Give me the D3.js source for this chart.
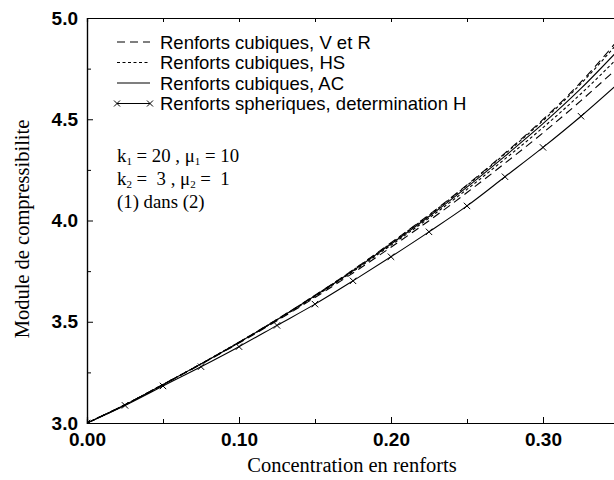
<!DOCTYPE html>
<html><head><meta charset="utf-8">
<script src="https://cdn.jsdelivr.net/npm/d3@7"></script>
<style>body{margin:0;background:#fff}svg{display:block}</style>
</head><body>
<script>
// ---- data ----
const concentration = [0, 0.025, 0.05, 0.075, 0.1, 0.125, 0.15, 0.175, 0.2, 0.225, 0.25, 0.275, 0.3, 0.325, 0.35];
const cubicV   = [3.000, 3.090, 3.190, 3.292, 3.399, 3.512, 3.631, 3.756, 3.890, 4.028, 4.176, 4.333, 4.499, 4.684, 4.897];
const cubicHSu = [3.000, 3.090, 3.190, 3.292, 3.399, 3.511, 3.630, 3.755, 3.888, 4.026, 4.173, 4.329, 4.493, 4.676, 4.883];
const cubicAC  = [3.000, 3.090, 3.190, 3.292, 3.398, 3.510, 3.628, 3.752, 3.884, 4.020, 4.165, 4.318, 4.478, 4.652, 4.845];
const cubicHSl = [3.000, 3.090, 3.190, 3.292, 3.397, 3.508, 3.625, 3.748, 3.878, 4.012, 4.154, 4.304, 4.459, 4.626, 4.809];
const cubicR   = [3.000, 3.090, 3.189, 3.290, 3.395, 3.505, 3.620, 3.741, 3.868, 3.999, 4.138, 4.283, 4.433, 4.592, 4.760];
const spherH   = [3.000, 3.087, 3.183, 3.278, 3.377, 3.482, 3.587, 3.702, 3.821, 3.944, 4.072, 4.216, 4.361, 4.515, 4.680];
const xTicks = [0, 0.1, 0.2, 0.3];
const xMinor = [0.05, 0.15, 0.25, 0.35, 0.4];
const yTicks = [3.0, 3.5, 4.0, 4.5, 5.0];
const yMinor = [3.25, 3.75, 4.25, 4.75];
const legendLabels = ["Renforts cubiques, V et R", "Renforts cubiques, HS", "Renforts cubiques, AC", "Renforts spheriques, determination H"];

const W = 614, H = 480;
const svg = d3.select("body").append("svg").attr("width", W).attr("height", H);
const x = d3.scaleLinear().domain([0, 0.4]).range([87, 695]);
const y = d3.scaleLinear().domain([3.0, 5.0]).range([423, 18]);

svg.append("clipPath").attr("id", "plotclip").append("rect")
  .attr("x", 87).attr("y", 18).attr("width", 608).attr("height", 405);

const sans = "'Liberation Sans', Arial, Helvetica, sans-serif";
const serif = "'Liberation Serif', 'Times New Roman', serif";

// axes
function styleAxis(g){ g.select(".domain").attr("stroke","#000").attr("stroke-width",1.2); g.selectAll(".tick line").attr("stroke","#000").attr("stroke-width",1); }
svg.append("g").attr("transform","translate(0,423)")
  .call(d3.axisBottom(x).tickValues(xTicks).tickSize(-6).tickPadding(10).tickFormat(d3.format(".2f")))
  .call(styleAxis)
  .call(g=>g.selectAll("text").attr("font-family",sans).attr("font-weight","bold").attr("font-size",19).attr("fill","#000"));
svg.append("g").attr("transform","translate(0,423)")
  .call(d3.axisBottom(x).tickValues(xMinor).tickSize(-4).tickFormat(""))
  .call(styleAxis);
svg.append("g").attr("transform","translate(0,18)")
  .call(d3.axisTop(x).tickValues(xTicks.concat(xMinor)).tickSize(-4).tickFormat(""))
  .call(styleAxis);
svg.append("g").attr("transform","translate(87,0)")
  .call(d3.axisLeft(y).tickValues(yTicks).tickSize(-6).tickPadding(9).tickFormat(d3.format(".1f")))
  .call(styleAxis)
  .call(g=>g.selectAll("text").attr("font-family",sans).attr("font-weight","bold").attr("font-size",19).attr("fill","#000"));
svg.append("g").attr("transform","translate(87,0)")
  .call(d3.axisLeft(y).tickValues(yMinor).tickSize(-4).tickFormat(""))
  .call(styleAxis);

// axis titles
svg.append("text").attr("x", 352).attr("y", 472).attr("text-anchor","middle")
  .attr("font-family", serif).attr("font-size", 20.5).text("Concentration en renforts");
svg.append("text").attr("transform","translate(29,229) rotate(-90)").attr("text-anchor","middle")
  .attr("font-family", serif).attr("font-size", 20.5).text("Module de compressibilite");

// curves
const plot = svg.append("g").attr("clip-path","url(#plotclip)");
const line = d3.line().x(d=>x(d[0])).y(d=>y(d[1])).curve(d3.curveMonotoneX);
const series = [
  {v: cubicV,   dash: "8,5"},
  {v: cubicHSu, dash: "3,2.5"},
  {v: cubicAC,  dash: null},
  {v: cubicHSl, dash: "3,2.5"},
  {v: cubicR,   dash: "8,5"},
  {v: spherH,   dash: null}
];
series.forEach(s=>{
  plot.append("path").datum(concentration.map((c,i)=>[c, s.v[i]]))
    .attr("d", line).attr("fill","none").attr("stroke","#000").attr("stroke-width",1.1)
    .attr("stroke-dasharray", s.dash);
});
function cross(g, cx, cy, r){
  g.append("path").attr("d", `M${cx-r},${cy-r}L${cx+r},${cy+r}M${cx-r},${cy+r}L${cx+r},${cy-r}`)
   .attr("stroke","#000").attr("stroke-width",1).attr("fill","none");
}
concentration.forEach((c,i)=> cross(plot, x(c), y(spherH[i]), 3.2));

// legend
const legY = [42, 62.5, 83, 103.5];
const legDash = ["8,5", "3,2.5", null, null];
legendLabels.forEach((t,i)=>{
  svg.append("line").attr("x1",117).attr("x2",150).attr("y1",legY[i]).attr("y2",legY[i])
    .attr("stroke","#000").attr("stroke-width",1.1).attr("stroke-dasharray", legDash[i]);
  if (i===3){ cross(svg,117,legY[i],3); cross(svg,150,legY[i],3); }
  svg.append("text").attr("x",160).attr("y",legY[i]+6.5).attr("font-family",sans).attr("font-size",18.5).text(t);
});

// annotation
function annLine(yy, parts){
  const t = svg.append("text").attr("x",117).attr("y",yy).attr("font-family",serif).attr("font-size",18.8).style("white-space","pre");
  parts.forEach(p=>{
    if (p.sub) t.append("tspan").attr("font-size",11).attr("baseline-shift","-3").text(p.sub);
    else t.append("tspan").text(p.t);
  });
}
annLine(162, [{t:"k"},{sub:"1"},{t:" = 20 , \u03bc"},{sub:"1"},{t:" = 10"}]);
annLine(185, [{t:"k"},{sub:"2"},{t:" =  3 , \u03bc"},{sub:"2"},{t:" =  1"}]);
annLine(208, [{t:"(1) dans (2)"}]);
</script>
</body></html>
